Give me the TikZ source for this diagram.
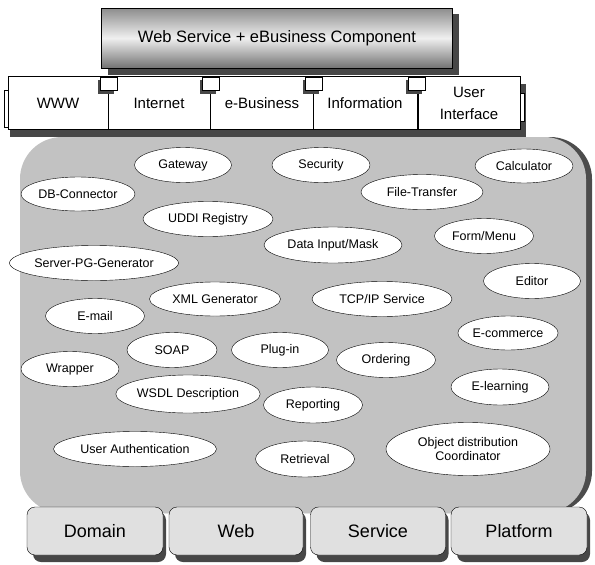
\documentclass[tikz,border=0pt]{standalone}
\usepackage{fontspec}
\setmainfont{Liberation Sans}
\usetikzlibrary{
    shapes.geometric,
    positioning
}

\begin{document}
\begin{tikzpicture}[x=1pt, y=-1pt,
    comp/.style={draw, ellipse, fill=white, inner sep=0pt, font=\fontsize{12.5}{14}\selectfont, align=center},
    tab/.style={draw, rectangle, fill=white, minimum height=53pt, font=\fontsize{15}{18}\selectfont, align=center},
    joint/.style={draw, rectangle, fill=white, minimum width=17pt, minimum height=13pt, inner sep=0pt},
    base/.style={draw, rectangle, rounded corners=8pt, fill=black!12, minimum height=48pt, font=\fontsize{18}{21}\selectfont},
    darkfill/.style={fill=black!72}
]
    \useasboundingbox (0,0) rectangle (595,565);

    % component pool
    \fill[black!70] (28,137) [rounded corners=42pt] rectangle (592,513);
    \node[rectangle, rounded corners=42pt, fill=black!24, minimum width=566pt, minimum height=376pt] (pool) at (303,325) {};

    % top box
    \fill[darkfill] (108,14) rectangle (459,75);
    \node[draw, rectangle, top color=black!45, bottom color=black!55, middle color=black!6, minimum width=351pt, minimum height=60pt,
        font=\fontsize{16.5}{19}\selectfont] (wsc) at (277,38) {Web Service + eBusiness Component};

    % tab row shadow and side bumps
    \fill[darkfill] (10,84) rectangle (526,137);
    \draw[fill=white] (4,90) rectangle (10,127);
    \draw[fill=white] (518,93) rectangle (524,121);

    % tab row
    \node[tab, minimum width=100pt] (www) at (58,103) {WWW};
    \node[tab, minimum width=102pt] (inet) at (159,103) {Internet};
    \node[tab, minimum width=103pt] (ebiz) at (262,103) {e-Business};
    \node[tab, minimum width=104pt] (info) at (365,103) {Information};
    \node[tab, minimum width=102pt] (ui) at (469,103) {User\\[4pt]Interface};

    % joints between tabs
    \foreach \jx [count=\j] in {109,211,314,417} {
        \fill[darkfill] (\jx-11,80) rectangle (\jx+5,94);
        \node[joint] (j\j) at (\jx,84) {};
    }

    % components
    \node[comp, minimum width=97pt, minimum height=35pt] (gateway) at (183,165) {Gateway};
    \node[comp, minimum width=98pt, minimum height=35pt] (security) at (321,165) {Security};
    \node[comp, minimum width=98pt, minimum height=34pt] (calc) at (524,166) {Calculator};
    \node[comp, minimum width=114pt, minimum height=34pt] (dbconn) at (78,194) {DB-Connector};
    \node[comp, minimum width=122pt, minimum height=35pt] (ftrans) at (422,192) {File-Transfer};
    \node[comp, minimum width=130pt, minimum height=35pt] (uddi) at (208,219) {UDDI Registry};
    \node[comp, minimum width=138pt, minimum height=36pt] (dinput) at (333,245) {Data Input/Mask};
    \node[comp, minimum width=99pt, minimum height=35pt] (form) at (484,236) {Form/Menu};
    \node[comp, minimum width=162pt, minimum height=35pt] (spg) at (94,263) {Server-PG-Generator};
    \node[comp, minimum width=97pt, minimum height=35pt] (editor) at (532,281) {Editor};
    \node[comp, minimum width=131pt, minimum height=34pt] (xmlgen) at (215,299) {XML Generator};
    \node[comp, minimum width=140pt, minimum height=35pt] (tcpip) at (382,299) {TCP/IP Service};
    \node[comp, minimum width=99pt, minimum height=35pt] (email) at (95,316) {E-mail};
    \node[comp, minimum width=99pt, minimum height=34pt] (ecom) at (508,333) {E-commerce};
    \node[comp, minimum width=90pt, minimum height=35pt] (soap) at (172,350) {SOAP};
    \node[comp, minimum width=97pt, minimum height=35pt] (plugin) at (280,350) {Plug-in};
    \node[comp, minimum width=99pt, minimum height=35pt] (order) at (386,360) {Ordering};
    \node[comp, minimum width=98pt, minimum height=35pt] (wrapper) at (70,369) {Wrapper};
    \node[comp, minimum width=98pt, minimum height=36pt] (elearn) at (500,387) {E-learning};
    \node[comp, minimum width=119pt, minimum height=38pt] (wsdl) at (188,394) {WSDL Description};
    \node[comp, minimum width=99pt, minimum height=36pt] (report) at (313,405) {Reporting};
    \node[comp, minimum width=163pt, minimum height=35pt] (userauth) at (135,449) {User Authentication};
    \node[comp, minimum width=99pt, minimum height=36pt] (retrieval) at (305,459) {Retrieval};
    \node[comp, minimum width=164pt, minimum height=53pt] (odc) at (468,449) {Object distribution\\Coordinator};

    % base row
    \foreach \bx/\bw in {95/136, 236/134, 378/135, 519/136}
        \fill[darkfill, rounded corners=8pt] (\bx-\bw/2+6,512) rectangle (\bx+\bw/2+3,562);
    \node[base, minimum width=136pt] (domain) at (95,531) {Domain};
    \node[base, minimum width=134pt] (web) at (236,531) {Web};
    \node[base, minimum width=135pt] (service) at (378,531) {Service};
    \node[base, minimum width=136pt] (platform) at (519,531) {Platform};
\end{tikzpicture}
\end{document}
